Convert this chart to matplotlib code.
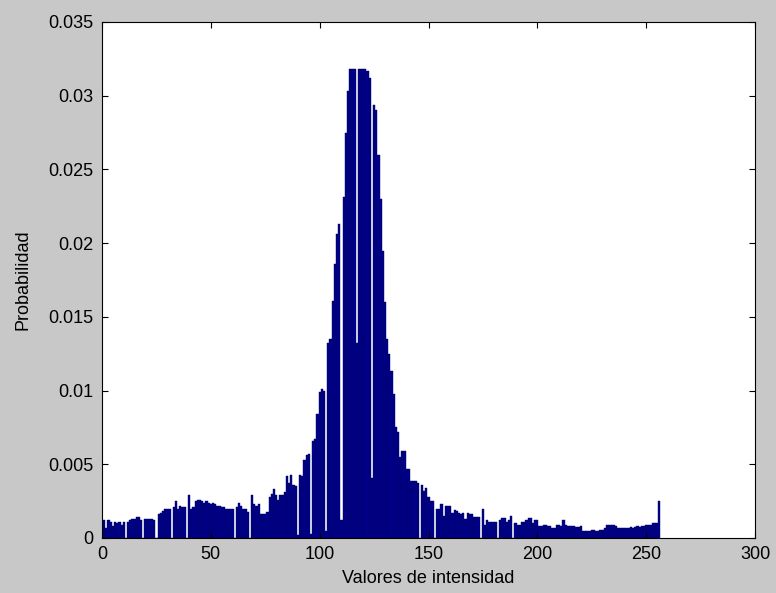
import matplotlib.pyplot as plt
import numpy as np

plt.rcParams['font.family'] = ['Liberation Sans', 'DejaVu Sans']

# histogram values (x = 1..256), in units of 1e-3
intensity = np.arange(1, 257)
prob_milli = [
    1.2, 0.7, 1.2, 1.1, 0.8, 1.1, 1.0, 1.1, 0.9, 1.1,
    0, 1.1, 1.2, 1.3, 1.3, 1.4, 1.4, 1.2, 0, 1.3,
    1.3, 1.3, 1.3, 1.2, 0, 1.6, 1.7, 1.8, 2.0, 2.0,
    2.0, 0, 2.1, 2.5, 2.0, 2.2, 2.1, 2.1, 0, 2.9,
    2.0, 2.1, 2.5, 2.6, 2.6, 2.5, 2.4, 2.5, 2.4, 2.3,
    2.4, 2.3, 2.2, 2.2, 2.1, 2.1, 2.0, 2.0, 2.0, 2.0,
    0, 2.1, 2.4, 2.2, 2.0, 2.0, 1.75, 0, 2.9, 2.3,
    2.2, 2.3, 1.6, 1.6, 1.6, 1.75, 2.8, 3.0, 3.3, 2.9,
    2.6, 2.9, 2.9, 3.1, 4.2, 3.7, 4.3, 3.6, 3.5, 0.2,
    4.3, 4.2, 5.3, 5.6, 5.7, 0.3, 6.6, 6.7, 8.4, 9.9,
    10.1, 10.0, 0.5, 13.2, 13.5, 16.1, 18.6, 20.6, 21.3, 1.2,
    23.1, 27.5, 30.3, 31.8, 31.8, 31.8, 13.2, 31.8, 31.8, 31.8,
    31.8, 31.7, 31.2, 4.1, 29.4, 29.0, 26.0, 23.0, 19.5, 16.0,
    13.5, 12.5, 11.3, 9.8, 7.5, 7.2, 5.5, 5.9, 5.9, 4.7,
    4.7, 3.9, 3.9, 3.9, 3.7, 0, 3.6, 3.2, 3.4, 2.8,
    2.5, 2.5, 0, 2.0, 2.0, 2.3, 1.5, 2.2, 2.2, 2.2,
    1.7, 1.9, 1.8, 1.7, 1.6, 1.7, 1.3, 1.7, 1.6, 1.6,
    1.4, 1.4, 1.4, 0, 2.0, 0.9, 1.2, 1.1, 1.1, 1.1,
    1.1, 0, 1.2, 1.35, 1.35, 1.1, 1.2, 1.5, 0, 1.0,
    0.9, 0.9, 1.1, 1.1, 1.2, 1.35, 1.35, 1.0, 1.2, 1.2,
    0.8, 0.8, 0.9, 0.9, 0.8, 0.8, 0.65, 0.65, 0.9, 0.9,
    0.8, 1.2, 0.9, 0.8, 0.8, 0.8, 0.8, 0.75, 0.75, 0.8,
    0.45, 0.45, 0.45, 0.45, 0.55, 0.55, 0.45, 0.45, 0.55, 0.55,
    0.65, 0.9, 0.9, 0.9, 0.9, 0.8, 0.7, 0.65, 0.65, 0.7,
    0.7, 0.65, 0.75, 0.7, 0.75, 0.8, 0.75, 0.8, 0.8, 0.85,
    0.9, 0.9, 1.0, 1.0, 1.0, 2.5,
]
prob = np.array(prob_milli) / 1000

xticks = [0, 50, 100, 150, 200, 250, 300]
yticks = [0, 0.005, 0.01, 0.015, 0.02, 0.025, 0.03, 0.035]
ytick_labels = ['0', '0.005', '0.01', '0.015', '0.02', '0.025', '0.03', '0.035']

fig = plt.figure(figsize=(7.76, 5.93), dpi=100, facecolor='#c8c8c8')
ax = fig.add_axes([102/776, 55/593, 653/776, 516/593])

ax.bar(intensity, prob, width=1.0, color='#00008c', edgecolor='#000060', linewidth=0.3)

ax.set_xlim(0, 300)
ax.set_ylim(0, 0.035)
ax.set_xticks(xticks)
ax.set_yticks(yticks)
ax.set_yticklabels(ytick_labels)
ax.tick_params(direction='in', length=4, top=True, right=True, labelsize=13, pad=6)

ax.set_xlabel('Valores de intensidad', fontsize=13)
ax.set_ylabel('Probabilidad', fontsize=13)
ax.xaxis.set_label_coords(0.5, -0.062)
ax.yaxis.set_label_coords(-0.108, 0.5)

plt.savefig('out.png', dpi=100, facecolor=fig.get_facecolor())
